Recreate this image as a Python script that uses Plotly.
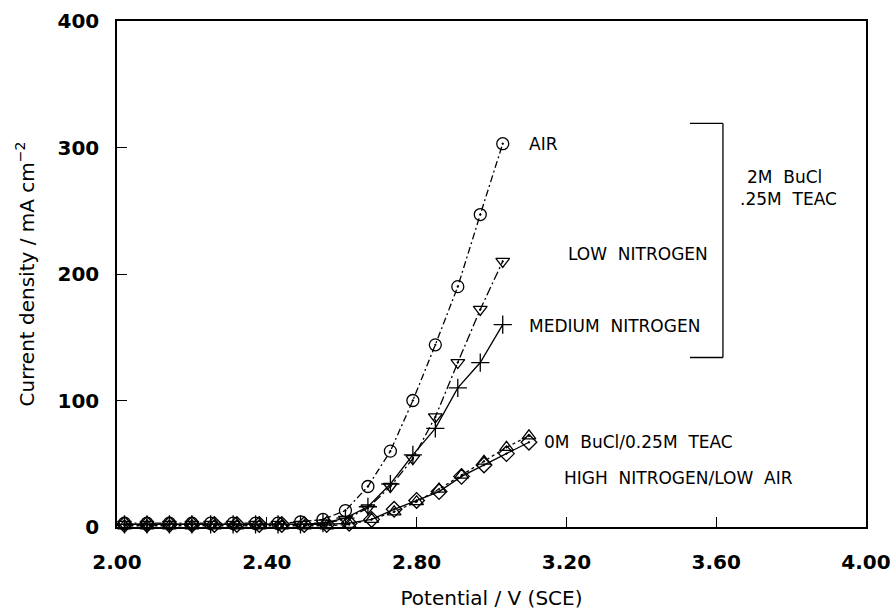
import plotly.graph_objects as go

# Potentials (V vs SCE)
x_upper = [2.02, 2.08, 2.14, 2.20, 2.25, 2.31, 2.37, 2.43, 2.49, 2.55, 2.61, 2.67,
           2.73, 2.79, 2.85, 2.91, 2.97, 3.03]
x_lower = [2.02, 2.08, 2.14, 2.20, 2.26, 2.32, 2.38, 2.44, 2.50, 2.56, 2.62, 2.68,
           2.74, 2.80, 2.86, 2.92, 2.98, 3.04, 3.10]

# Current densities (mA cm^-2)
air = [3, 3, 3, 3, 3, 3, 3, 3, 4, 6, 13, 32, 60, 100, 144, 190, 247, 303]
low_n2 = [2, 2, 2, 2, 2, 2, 2, 2, 2, 3, 6, 15, 32, 54, 87, 130, 172, 210]
med_n2 = [2, 2, 2, 2, 2, 2, 2, 2, 2, 3, 7, 16, 34, 57, 78, 110, 130, 160]
zero_tri = [1, 1, 1, 1, 1, 1, 1, 1, 1, 1, 2, 6, 12, 20, 30, 41, 52, 63, 72]
zero_dia = [2, 2, 2, 2, 2, 2, 2, 2, 2, 2, 3, 6, 14, 21, 28, 40, 49, 58, 67]

x_ticks = [2.0, 2.4, 2.8, 3.2, 3.6, 4.0]
x_ticktext = ["2.00", "2.40", "2.80", "3.20", "3.60", "4.00"]
y_ticks = [0, 100, 200, 300, 400]

fig = go.Figure()

def add(x, y, symbol, dash, size=12):
    fig.add_trace(go.Scatter(
        x=x, y=y, mode="lines+markers",
        line=dict(color="black", width=1.3, dash=dash),
        marker=dict(symbol=symbol, size=size, color="black",
                    line=dict(color="black", width=1.3)),
        cliponaxis=False, showlegend=False))

add(x_upper, air, "circle-open-dot", "7px,3px,2px,3px")
add(x_upper, low_n2, "triangle-down-open-dot", "9px,3px,2px,3px")
add(x_upper, med_n2, "cross-thin-open", "solid", 13)
add(x_lower, zero_tri, "triangle-up-open-dot", "dot")
add(x_lower, zero_dia, "diamond-open-dot", "solid")

ann_font = dict(family="DejaVu Sans", size=17, color="black")
labels = [
    (3.095, 303, "AIR"),
    (3.20, 216, "LOW  NITROGEN"),
    (3.095, 159, "MEDIUM  NITROGEN"),
    (3.677, 277, "2M  BuCl"),
    (3.658, 259, ".25M  TEAC"),
    (3.135, 67, "0M  BuCl/0.25M  TEAC"),
    (3.188, 39, "HIGH  NITROGEN/LOW  AIR"),
]
for lx, ly, txt in labels:
    fig.add_annotation(x=lx, y=ly, xref="x", yref="y", text=txt, showarrow=False,
                       xanchor="left", yanchor="middle", font=ann_font)

# bracket grouping the 2M BuCl curves
br = dict(color="black", width=1.3)
fig.add_shape(type="line", xref="x", yref="y", x0=3.618, x1=3.618, y0=134, y1=319, line=br)
fig.add_shape(type="line", xref="x", yref="y", x0=3.53, x1=3.618, y0=319, y1=319, line=br)
fig.add_shape(type="line", xref="x", yref="y", x0=3.53, x1=3.618, y0=134, y1=134, line=br)

tick_font = dict(family="DejaVu Sans", size=20, color="black", weight="bold")
title_font = dict(family="DejaVu Sans", size=20, color="black")
fig.update_xaxes(range=[2, 4], tickvals=x_ticks, ticktext=x_ticktext,
                 ticks="inside", ticklen=10, tickwidth=1.3, tickcolor="black",
                 showline=True, linecolor="black", linewidth=1.5, mirror=True,
                 showgrid=False, zeroline=False, tickfont=tick_font,
                 ticklabelstandoff=16, automargin=False,
                 title=dict(text="Potential / V (SCE)", standoff=20, font=title_font))
fig.update_yaxes(range=[0, 400], tickvals=y_ticks,
                 ticks="inside", ticklen=10, tickwidth=1.3, tickcolor="black",
                 showline=True, linecolor="black", linewidth=1.5, mirror=True,
                 showgrid=False, zeroline=False, tickfont=tick_font,
                 ticklabelstandoff=12, automargin=False,
                 title=dict(text="Current density / mA cm<sup>−2</sup>", standoff=18,
                            font=title_font))

fig.update_layout(width=893, height=610, plot_bgcolor="white", paper_bgcolor="white",
                  margin=dict(l=117, r=27, t=21, b=83), autosize=False)

fig.write_html("out.html")
